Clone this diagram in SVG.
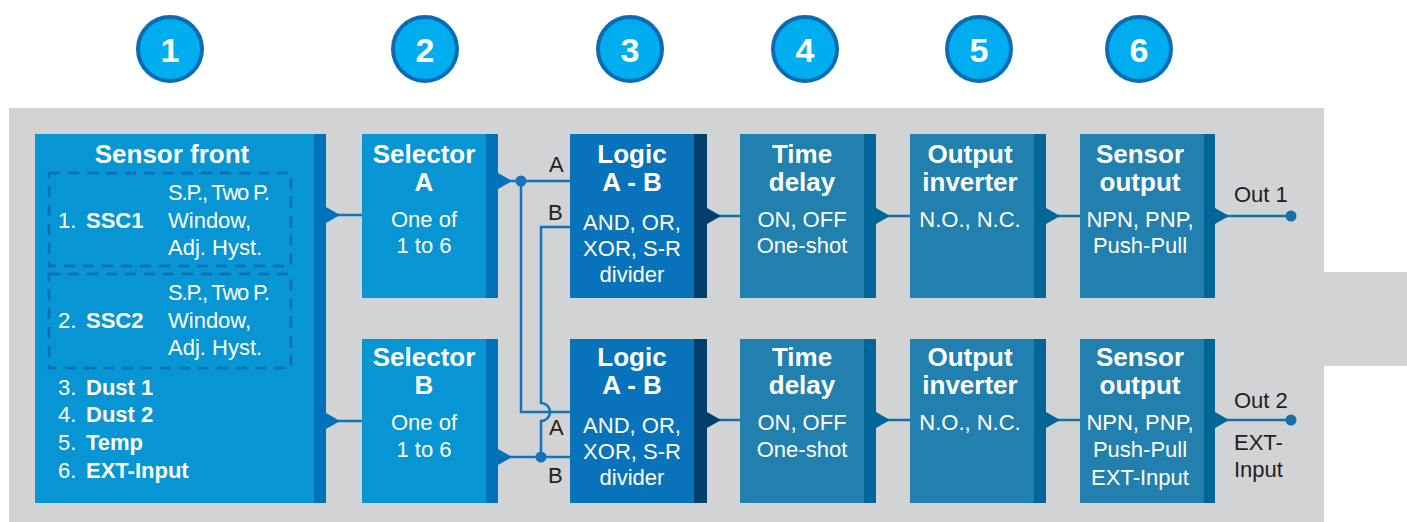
<svg xmlns="http://www.w3.org/2000/svg" width="1407" height="522" viewBox="0 0 1407 522">
<style>
  text{font-family:"Liberation Sans",Arial,sans-serif;}
  .h{font-size:26px;font-weight:bold;fill:#fff;text-anchor:middle;}
  .b{font-size:22px;fill:#fff;text-anchor:middle;}
  .l{font-size:22px;fill:#fff;}
  .lb{font-weight:bold;}
  .sp{letter-spacing:-1.2px;}
  .k{font-size:22px;fill:#231f20;}
  .num{font-size:34px;font-weight:bold;fill:#fff;text-anchor:middle;}
  .badge{fill:#00aeef;stroke:#0b6bb4;stroke-width:4;}
  .f1{fill:#0795d3;} .s1{fill:#0071bb;}
  .f2{fill:#0872bb;} .s2{fill:#013f6d;}
  .f3{fill:#2180ad;} .s3{fill:#006597;}
  .dash{fill:none;stroke:#0b6bb4;stroke-width:2.5;stroke-dasharray:11 8;}
  .c1{fill:none;stroke:#1274b9;stroke-width:2.5;}
  .c2{fill:none;stroke:#17709f;stroke-width:2.5;}
</style>
<rect width="1407" height="522" fill="#fff"/>
<path d="M9,108 H1324 V272 H1407 V366 H1324 V522 H9 Z" fill="#d1d3d4"/>

<g id="badges">
  <circle class="badge" cx="170" cy="49" r="32"/><text class="num" x="170" y="62">1</text>
  <circle class="badge" cx="425" cy="49" r="32"/><text class="num" x="425" y="62">2</text>
  <circle class="badge" cx="630" cy="49" r="32"/><text class="num" x="630" y="62">3</text>
  <circle class="badge" cx="805" cy="49" r="32"/><text class="num" x="805" y="62">4</text>
  <circle class="badge" cx="979" cy="49" r="32"/><text class="num" x="979" y="62">5</text>
  <circle class="badge" cx="1139" cy="49" r="32"/><text class="num" x="1139" y="62">6</text>
</g>

<g id="connectors">
  <path class="c1" d="M326,215 H362"/>
  <path class="c1" d="M326,421 H362"/>
  <path class="c1" d="M498,181 H570"/>
  <path class="c1" d="M521,181 V412 H570"/>
  <path class="c1" d="M570,227 H541 V403 A9 9 0 0 1 541 421 V457"/>
  <path class="c1" d="M498,457 H570"/>
  <circle cx="521" cy="181" r="5.5" fill="#1274b9"/>
  <circle cx="541" cy="457" r="5.5" fill="#1274b9"/>
  <path class="c2" d="M707,216 H740 M876,216 H910 M1046,216 H1080 M1215,216 H1291"/>
  <path class="c2" d="M707,420 H740 M876,420 H910 M1046,420 H1080 M1215,420 H1291"/>
  <circle cx="1291" cy="216" r="5.5" fill="#17709f"/>
  <circle cx="1291" cy="420" r="5.5" fill="#17709f"/>
  <text class="k" x="549" y="172">A</text>
  <text class="k" x="548" y="220">B</text>
  <text class="k" x="549" y="435">A</text>
  <text class="k" x="548" y="483">B</text>
  <text class="k" x="1234" y="202">Out 1</text>
  <text class="k" x="1234" y="408">Out 2</text>
  <text class="k" x="1234" y="450">EXT-</text>
  <text class="k" x="1234" y="477">Input</text>
</g>

<g id="sensor-front">
  <rect class="f1" x="35" y="134" width="291" height="369"/>
  <rect class="s1" x="314" y="134" width="12" height="369"/>
  <polygon class="s1" points="326,207 340,215 326,223"/>
  <polygon class="s1" points="326,413 340,421 326,429"/>
  <text class="h" x="172" y="163">Sensor front</text>
  <rect class="dash" x="49" y="173" width="242" height="93"/>
  <rect class="dash" x="49" y="274" width="242" height="94"/>
  <text class="l" x="58" y="228">1.</text><text class="l lb" x="86" y="228">SSC1</text>
  <text class="l sp" x="168" y="200">S.P., Two P.</text>
  <text class="l" x="168" y="228">Window,</text>
  <text class="l" x="168" y="255">Adj. Hyst.</text>
  <text class="l" x="58" y="328">2.</text><text class="l lb" x="86" y="328">SSC2</text>
  <text class="l sp" x="168" y="300">S.P., Two P.</text>
  <text class="l" x="168" y="328">Window,</text>
  <text class="l" x="168" y="355">Adj. Hyst.</text>
  <text class="l" x="58" y="395">3.</text><text class="l lb" x="86" y="395">Dust 1</text>
  <text class="l" x="58" y="422">4.</text><text class="l lb" x="86" y="422">Dust 2</text>
  <text class="l" x="58" y="450">5.</text><text class="l lb" x="86" y="450">Temp</text>
  <text class="l" x="58" y="478">6.</text><text class="l lb" x="86" y="478">EXT-Input</text>
</g>

<g id="selector-a">
  <rect class="f1" x="362" y="134" width="136" height="164"/>
  <rect class="s1" x="486" y="134" width="12" height="164"/>
  <polygon class="s1" points="498,173 512,181 498,189"/>
  <text class="h" x="424" y="163">Selector</text>
  <text class="h" x="424" y="191">A</text>
  <text class="b" x="424" y="227">One of</text>
  <text class="b" x="424" y="253">1 to 6</text>
</g>

<g id="selector-b">
  <rect class="f1" x="362" y="339" width="136" height="164"/>
  <rect class="s1" x="486" y="339" width="12" height="164"/>
  <polygon class="s1" points="498,449 512,457 498,465"/>
  <text class="h" x="424" y="366">Selector</text>
  <text class="h" x="424" y="394">B</text>
  <text class="b" x="424" y="430">One of</text>
  <text class="b" x="424" y="457">1 to 6</text>
</g>

<g id="logic-1">
  <rect class="f2" x="570" y="134" width="137" height="164"/>
  <rect class="s2" x="694" y="134" width="13" height="164"/>
  <polygon class="s2" points="707,208 721,216 707,224"/>
  <text class="h" x="632" y="163">Logic</text>
  <text class="h" x="632" y="191">A - B</text>
  <text class="b" x="632" y="230">AND, OR,</text>
  <text class="b" x="632" y="256">XOR, S-R</text>
  <text class="b" x="632" y="282">divider</text>
</g>

<g id="logic-2">
  <rect class="f2" x="570" y="339" width="137" height="164"/>
  <rect class="s2" x="694" y="339" width="13" height="164"/>
  <polygon class="s2" points="707,412 721,420 707,428"/>
  <text class="h" x="632" y="366">Logic</text>
  <text class="h" x="632" y="394">A - B</text>
  <text class="b" x="632" y="433">AND, OR,</text>
  <text class="b" x="632" y="459">XOR, S-R</text>
  <text class="b" x="632" y="485">divider</text>
</g>

<g id="time-delay-1">
  <rect class="f3" x="740" y="134" width="136" height="164"/>
  <rect class="s3" x="864" y="134" width="12" height="164"/>
  <polygon class="s3" points="876,208 890,216 876,224"/>
  <text class="h" x="802" y="163">Time</text>
  <text class="h" x="802" y="191">delay</text>
  <text class="b" x="802" y="227">ON, OFF</text>
  <text class="b" x="802" y="253">One-shot</text>
</g>

<g id="time-delay-2">
  <rect class="f3" x="740" y="339" width="136" height="164"/>
  <rect class="s3" x="864" y="339" width="12" height="164"/>
  <polygon class="s3" points="876,412 890,420 876,428"/>
  <text class="h" x="802" y="366">Time</text>
  <text class="h" x="802" y="394">delay</text>
  <text class="b" x="802" y="430">ON, OFF</text>
  <text class="b" x="802" y="457">One-shot</text>
</g>

<g id="output-inverter-1">
  <rect class="f3" x="910" y="134" width="136" height="164"/>
  <rect class="s3" x="1034" y="134" width="12" height="164"/>
  <polygon class="s3" points="1046,208 1060,216 1046,224"/>
  <text class="h" x="970" y="163">Output</text>
  <text class="h" x="970" y="191">inverter</text>
  <text class="b" x="970" y="227">N.O., N.C.</text>
</g>

<g id="output-inverter-2">
  <rect class="f3" x="910" y="339" width="136" height="164"/>
  <rect class="s3" x="1034" y="339" width="12" height="164"/>
  <polygon class="s3" points="1046,412 1060,420 1046,428"/>
  <text class="h" x="970" y="366">Output</text>
  <text class="h" x="970" y="394">inverter</text>
  <text class="b" x="970" y="430">N.O., N.C.</text>
</g>

<g id="sensor-output-1">
  <rect class="f3" x="1080" y="134" width="135" height="164"/>
  <rect class="s3" x="1204" y="134" width="11" height="164"/>
  <polygon class="s3" points="1215,208 1229,216 1215,224"/>
  <text class="h" x="1140" y="163">Sensor</text>
  <text class="h" x="1140" y="191">output</text>
  <text class="b" x="1140" y="227">NPN, PNP,</text>
  <text class="b" x="1140" y="253">Push-Pull</text>
</g>

<g id="sensor-output-2">
  <rect class="f3" x="1080" y="339" width="135" height="164"/>
  <rect class="s3" x="1204" y="339" width="11" height="164"/>
  <polygon class="s3" points="1215,412 1229,420 1215,428"/>
  <text class="h" x="1140" y="366">Sensor</text>
  <text class="h" x="1140" y="394">output</text>
  <text class="b" x="1140" y="430">NPN, PNP,</text>
  <text class="b" x="1140" y="457">Push-Pull</text>
  <text class="b" x="1140" y="485">EXT-Input</text>
</g>
</svg>
